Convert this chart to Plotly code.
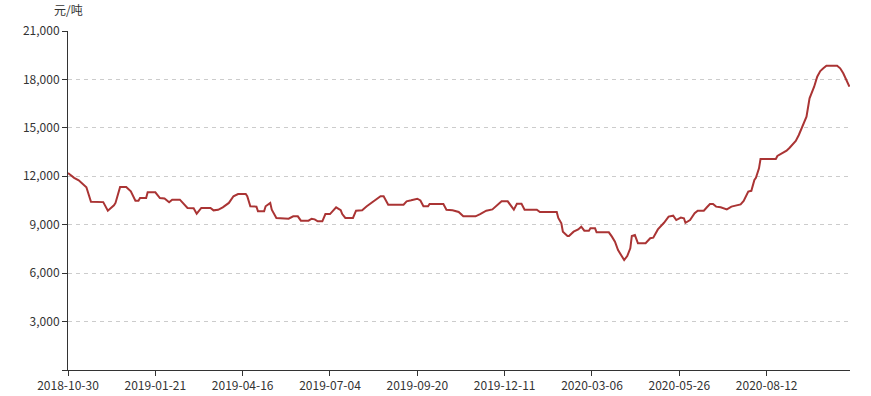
import plotly.graph_objects as go

# trading-day index of each traced vertex and its price (元/吨)
day_index = [0, 4, 7, 9, 12, 15, 23, 26, 30, 31, 34, 38, 41, 44, 46, 47, 51, 52, 57, 60,
             63, 66, 68, 73, 75, 78, 82, 84, 87, 93, 95, 98, 101, 105, 108, 111, 116, 117, 119, 123,
             124, 128, 129, 132, 133, 136, 144, 147, 150, 152, 157, 159, 161, 163, 166, 168, 171, 175, 178, 179,
             181, 186, 188, 192, 195, 198, 202, 204, 206, 209, 219, 221, 224, 228, 230, 232, 235, 236, 245, 247,
             251, 255, 258, 266, 269, 273, 277, 280, 283, 287, 289, 291, 293, 296, 298, 306, 308, 319, 320, 322,
             323, 326, 327, 330, 333, 335, 337, 340, 341, 344, 345, 353, 355, 357, 359, 362, 363, 365, 367, 368,
             370, 372, 377, 380, 382, 385, 389, 392, 395, 397, 400, 402, 403, 406, 409, 411, 415, 417, 419, 421,
             423, 426, 430, 433, 439, 441, 444, 446, 448, 449, 451, 452, 462, 463, 466, 469, 471, 475, 477, 479,
             482, 484, 487, 489, 491, 493, 495, 502, 504, 506, 508, 509, 510]
price = [12200, 11900, 11750, 11580, 11320, 10420, 10400, 9870, 10200, 10350, 11340, 11340, 11070, 10490, 10490, 10650, 10650, 11010, 11010, 10650,
         10620, 10390, 10550, 10550, 10330, 10040, 10020, 9680, 10040, 10040, 9890, 9920, 10080, 10350, 10760, 10900, 10900, 10760, 10140, 10120,
         9830, 9830, 10140, 10350, 9930, 9420, 9370, 9520, 9520, 9250, 9250, 9370, 9330, 9210, 9210, 9660, 9660, 10080, 9900, 9660,
         9420, 9420, 9870, 9900, 10140, 10350, 10610, 10760, 10760, 10240, 10240, 10450, 10510, 10610, 10500, 10140, 10140, 10280, 10280, 9930,
         9900, 9790, 9520, 9520, 9660, 9870, 9950, 10200, 10450, 10450, 10200, 9930, 10300, 10300, 9930, 9930, 9790, 9790, 9420, 9090,
         8570, 8300, 8300, 8570, 8710, 8880, 8630, 8630, 8780, 8780, 8530, 8530, 8260, 7950, 7430, 6920, 6810, 7060, 7540, 8300,
         8360, 7850, 7850, 8160, 8200, 8710, 9120, 9500, 9560, 9290, 9440, 9400, 9120, 9290, 9710, 9870, 9870, 10080, 10280, 10280,
         10120, 10080, 9950, 10120, 10260, 10470, 11050, 11100, 11770, 11900, 12490, 13070, 13070, 13260, 13420, 13590, 13770, 14190, 14560, 14970,
         15690, 16830, 17550, 18170, 18520, 18690, 18850, 18850, 18690, 18380, 17970, 17860, 17550]

tick_index = [0, 57, 114, 171, 228, 285, 342, 399, 456]
tick_labels = ["2018-10-30", "2019-01-21", "2019-04-16", "2019-07-04", "2019-09-20",
               "2019-12-11", "2020-03-06", "2020-05-26", "2020-08-12"]
y_ticks = [0, 3000, 6000, 9000, 12000, 15000, 18000, 21000]

font_family = "Noto Sans CJK SC, Noto Sans, sans-serif"

fig = go.Figure()
fig.add_trace(go.Scatter(
    x=day_index, y=price, mode="lines",
    line=dict(color="rgb(170,52,52)", width=2),
    hoverinfo="y"
))

fig.update_layout(
    width=871, height=396,
    margin=dict(l=68, r=21, t=31, b=26),
    paper_bgcolor="white", plot_bgcolor="white",
    showlegend=False,
    font=dict(family=font_family, size=12, color="#333333"),
    xaxis=dict(
        range=[0, 510.4], automargin=False,
        tickmode="array", tickvals=tick_index, ticktext=tick_labels,
        showgrid=False, zeroline=False,
        showline=True, linecolor="#333333", linewidth=1,
        ticks="outside", ticklen=5, tickcolor="#333333",
        tickfont=dict(size=12, color="#333333"),
    ),
    yaxis=dict(
        range=[0, 21000], automargin=False,
        tickmode="array", tickvals=y_ticks,
        ticktext=[("" if v == 0 else f"{v:,}") for v in y_ticks],
        showgrid=True, gridcolor="#cccccc", griddash="4px,4px", gridwidth=1,
        zeroline=False,
        showline=True, linecolor="#333333", linewidth=1,
        ticks="outside", ticklen=5, tickcolor="#333333",
        tickfont=dict(size=12, color="#333333"),
    ),
    annotations=[dict(
        text="元/吨", xref="paper", yref="paper", x=0, y=1.062,
        xanchor="center", yanchor="middle", showarrow=False,
        font=dict(size=12, color="#333333", family=font_family)
    )]
)

fig.write_html("out.html")
